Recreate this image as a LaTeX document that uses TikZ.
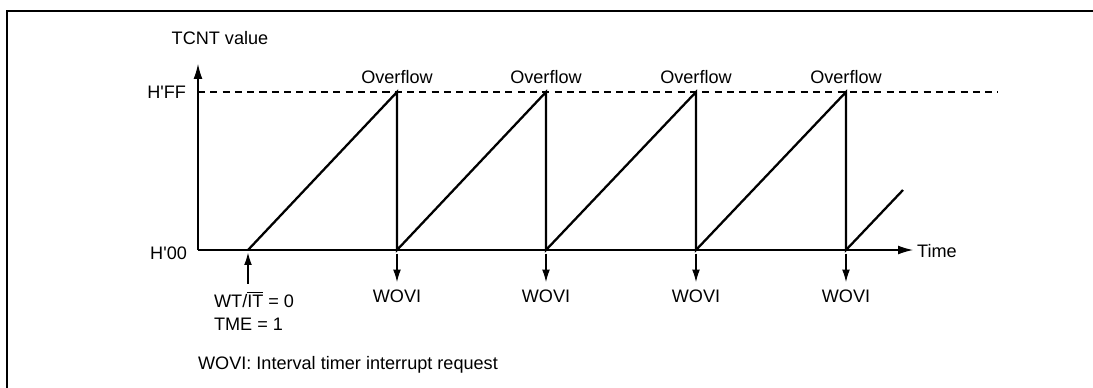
\documentclass[tikz,border=0pt]{standalone}
\usepackage{fontspec}
\setmainfont{Liberation Sans}
\usetikzlibrary{arrows.meta,positioning}

\begin{document}
\begin{tikzpicture}[
  x=0.02cm, y=-0.02cm,
  every node/.style={font=\fontsize{10.3}{13.6}\selectfont,inner sep=1pt},
  axis/.style={line width=0.6pt,-{Latex[length=8.5pt,width=5pt]}},
  saw/.style={line width=1.3pt,line join=miter},
  irq/.style={line width=0.6pt,-{Latex[length=7pt,width=4.4pt]}},
  level/.style={line width=0.6pt,dash pattern=on 4pt off 3pt}
]
\useasboundingbox (0,0) rectangle (1093,387);
\draw[line width=1.1pt] (7,400) -- (7,11) -- (1100,11);
% axes
\coordinate (orig) at (198,250);
\coordinate (ytop) at (198,64);
\coordinate (xend) at (913,250);
\node[anchor=base] (ylab) at (220,44) {TCNT value};
\node[anchor=east] (hff) at (188,92) {H\textquotesingle FF};
\node[anchor=east] (h00) at (189,253) {H\textquotesingle 00};
\node[anchor=west] (time) at (915,251) {Time};
\draw[axis] (orig) -- (ytop);
\draw[axis] (orig) -- (xend);
\draw[level] (orig |- hff) -- (998,92);
% sawtooth
\coordinate (start) at (248,250);
\coordinate (p1) at (397,92);  \coordinate (b1) at (397,250);
\coordinate (p2) at (546,92);  \coordinate (b2) at (546,250);
\coordinate (p3) at (696,92);  \coordinate (b3) at (696,250);
\coordinate (p4) at (846,92);  \coordinate (b4) at (846,250);
\coordinate (tail) at (903,190);
\draw[saw] (start) -- (p1) -- (b1) -- (p2) -- (b2) -- (p3) -- (b3)
  -- (p4) -- (b4) -- (tail);
\node[anchor=base] (ov1) at (397,83) {Overflow};
\node[anchor=base] (ov2) at (546,83) {Overflow};
\node[anchor=base] (ov3) at (696,83) {Overflow};
\node[anchor=base] (ov4) at (846,83) {Overflow};
% interrupt requests
\node[anchor=base] (wovi1) at (397,302) {WOVI};
\node[anchor=base] (wovi2) at (546,302) {WOVI};
\node[anchor=base] (wovi3) at (696,302) {WOVI};
\node[anchor=base] (wovi4) at (846,302) {WOVI};
\draw[irq,shorten <=2pt,shorten >=3pt] (b1) -- (wovi1);
\draw[irq,shorten <=2pt,shorten >=3pt] (b2) -- (wovi2);
\draw[irq,shorten <=2pt,shorten >=3pt] (b3) -- (wovi3);
\draw[irq,shorten <=2pt,shorten >=3pt] (b4) -- (wovi4);
% start condition
\node[anchor=north west,align=left] (cond) at (212,289)
  {WT/$\overline{\mbox{IT}}$ = 0\\TME = 1};
\draw[irq,shorten <=3pt,shorten >=1.5pt] (start |- cond.north) -- (start);
\node[anchor=base west] (note) at (196,369) {WOVI: Interval timer interrupt request};
\end{tikzpicture}
\end{document}
